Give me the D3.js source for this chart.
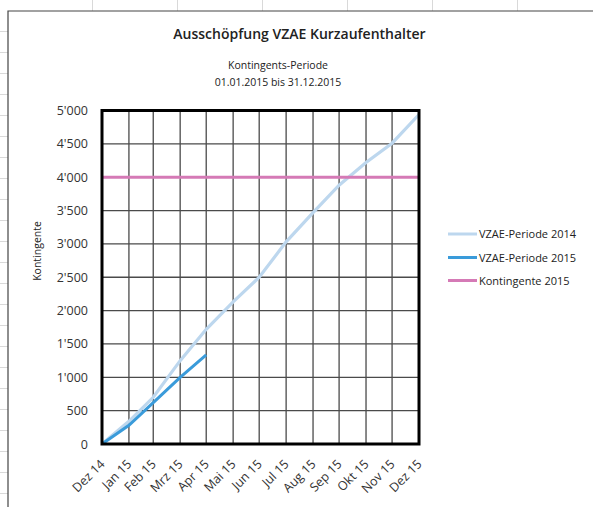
<!DOCTYPE html>
<html><head><meta charset="utf-8">
<script src="https://cdn.jsdelivr.net/npm/d3@7"></script>
<style>
html,body{margin:0;padding:0;background:#fff;}
svg{display:block;font-family:"Open Sans","Noto Sans",sans-serif;}
</style></head>
<body><svg id="c" width="593" height="507"></svg>
<script>
// ---- data ----
const monthDates = [
  [2014,11,31],[2015,0,31],[2015,1,28],[2015,2,31],[2015,3,30],[2015,4,31],
  [2015,5,30],[2015,6,31],[2015,7,31],[2015,8,30],[2015,9,31],[2015,10,30],[2015,11,31]
];
const monthLabels = ["Dez 14","Jan 15","Feb 15","Mrz 15","Apr 15","Mai 15","Jun 15","Jul 15","Aug 15","Sep 15","Okt 15","Nov 15","Dez 15"];
const vzae2014 = [0, 340, 700, 1250, 1720, 2130, 2500, 3030, 3470, 3880, 4220, 4510, 4940];
const vzae2015 = [0, 280, 620, 1000, 1335];
const kontingent2015 = 4000;
const yTicks = [0,500,1000,1500,2000,2500,3000,3500,4000,4500,5000];
const seriesNames = ["VZAE-Periode 2014","VZAE-Periode 2015","Kontingente 2015"];
const seriesColors = ["#BDD7EE","#3A9BDA","#D57AB6"];

const dates = monthDates.map(d => new Date(d[0], d[1], d[2]));
const svg = d3.select("#c");

// spreadsheet background grid (faint)
const bg = svg.append("g");
for (let x = 92.5; x < 593; x += 85) bg.append("line").attr("x1",x).attr("x2",x).attr("y1",0).attr("y2",11).attr("stroke","#d9d9d9");
for (let y = 451.5; y > 11; y -= 21) bg.append("line").attr("x1",0).attr("x2",8).attr("y1",y).attr("y2",y).attr("stroke","#d9d9d9");
for (let y = 472.5; y < 507; y += 21) bg.append("line").attr("x1",0).attr("x2",8).attr("y1",y).attr("y2",y).attr("stroke","#d9d9d9");

// chart frame
svg.append("path").attr("d","M8,507 V11 H593").attr("fill","none").attr("stroke","#444").attr("stroke-width",1.2);

const L = 102, R = 419, T = 110.5, B = 444;
const x = d3.scaleTime().domain([dates[0], dates[dates.length-1]]).range([L, R]);
const y = d3.scaleLinear().domain([0, 5000]).range([B, T]);
const loc = d3.formatLocale({decimal:".", thousands:"'", grouping:[3], currency:["",""]});
const fmt = loc.format(",d");

// gridlines
const grid = svg.append("g").attr("stroke","#4a4a4a").attr("stroke-width",1.3);
dates.forEach(d => grid.append("line").attr("x1",x(d)).attr("x2",x(d)).attr("y1",T).attr("y2",B));
yTicks.forEach(v => grid.append("line").attr("x1",L).attr("x2",R).attr("y1",y(v)).attr("y2",y(v)));

// y axis labels
const yAxis = d3.axisLeft(y).tickValues(yTicks).tickFormat(fmt).tickSize(0).tickPadding(14);
const ya = svg.append("g").attr("transform",`translate(${L},0)`).call(yAxis);
ya.select(".domain").remove();
ya.selectAll("text").attr("font-size",12.5).attr("fill","#333").attr("font-family","'Open Sans',sans-serif");

// x axis labels
const xAxis = d3.axisBottom(x).tickValues(dates).tickFormat((d,i)=>monthLabels[i]).tickSize(0);
const xa = svg.append("g").attr("transform",`translate(0,${B})`).call(xAxis);
xa.select(".domain").remove();
xa.selectAll("text").attr("font-size",12.5).attr("fill","#333").attr("font-family","'Open Sans',sans-serif")
  .attr("text-anchor","end").attr("dy",0).attr("y",0)
  .attr("transform","translate(3,21) rotate(-45)");

// y title
svg.append("text").attr("transform","translate(40.5,251) rotate(-90)").attr("text-anchor","middle")
  .attr("font-size",10.5).attr("fill","#222").text("Kontingente");

// lines
const line = d3.line().x((d,i)=>x(dates[i])).y(d=>y(d));
svg.append("path").datum(vzae2014).attr("d",line).attr("fill","none").attr("stroke",seriesColors[0]).attr("stroke-width",3.2);
svg.append("path").datum(vzae2015).attr("d",line).attr("fill","none").attr("stroke",seriesColors[1]).attr("stroke-width",3);
svg.append("line").attr("x1",L).attr("x2",R).attr("y1",y(kontingent2015)).attr("y2",y(kontingent2015))
  .attr("stroke",seriesColors[2]).attr("stroke-width",3);

// plot border
svg.append("rect").attr("x",L).attr("y",T).attr("width",R-L).attr("height",B-T)
  .attr("fill","none").attr("stroke","#000").attr("stroke-width",3);

// titles
svg.append("text").attr("x",299.5).attr("y",38.5).attr("text-anchor","middle").attr("font-size",14)
  .attr("font-weight",600).attr("fill","#222").text("Ausschöpfung VZAE Kurzaufenthalter");
svg.append("text").attr("x",278).attr("y",69).attr("text-anchor","middle").attr("font-size",10.5)
  .attr("fill","#222").text("Kontingents-Periode");
svg.append("text").attr("x",278).attr("y",86).attr("text-anchor","middle").attr("font-size",10.5)
  .attr("fill","#222").text("01.01.2015 bis 31.12.2015");

// legend
const legY = [234, 257.5, 280.5];
seriesNames.forEach((n,i)=>{
  svg.append("line").attr("x1",448).attr("x2",477).attr("y1",legY[i]).attr("y2",legY[i])
    .attr("stroke",seriesColors[i]).attr("stroke-width",3);
  svg.append("text").attr("x",479).attr("y",legY[i]+4).attr("font-size",11).attr("fill","#222").text(n);
});
</script></body></html>
